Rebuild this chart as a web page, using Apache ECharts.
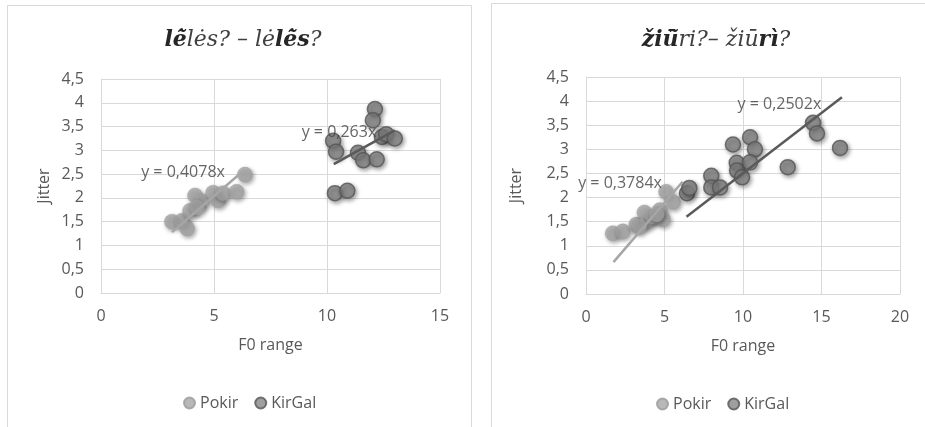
<!DOCTYPE html>
<html>
<head>
<meta charset="utf-8">
<script src="https://cdn.jsdelivr.net/npm/echarts@6/dist/echarts.min.js"></script>
<style>
html,body{margin:0;padding:0;background:#fff;}
#c{width:925px;height:427px;}
</style>
</head>
<body>
<div id="c"></div>
<script>
// ---- Data ----
// Left chart: lėlės? – lėlė̃s?
const leftPokir = [
  [3.14,1.50],[3.58,1.52],[3.81,1.36],[3.94,1.73],[4.16,2.05],[4.47,1.93],
  [4.25,1.80],[4.96,2.11],[5.18,1.95],[5.40,2.10],[6.00,2.13],[6.37,2.49]
];
const leftKirGal = [
  [12.12,3.87],[12.03,3.63],[10.27,3.20],[10.40,2.97],[11.37,2.95],[11.60,2.79],
  [12.20,2.81],[12.43,3.28],[12.62,3.34],[13.00,3.25],[10.35,2.10],[10.90,2.15]
];
// Right chart: žiū̃ri? – žiūrì?
const rightPokir = [
  [1.70,1.26],[2.34,1.30],[3.20,1.44],[3.72,1.69],[3.90,1.50],[4.27,1.60],
  [4.70,1.74],[4.90,1.55],[5.10,2.12],[5.54,1.91],[4.50,1.65],[3.40,1.40]
];
const rightKirGal = [
  [6.43,2.09],[6.58,2.20],[7.98,2.45],[7.98,2.21],[8.54,2.21],[9.36,3.10],
  [9.60,2.72],[9.62,2.56],[9.94,2.42],[10.45,3.25],[10.76,3.00],[10.45,2.73],
  [12.85,2.63],[14.46,3.55],[14.71,3.33],[16.18,3.03]
];
// Trendlines y = k*x (slope, x-extent)
const leftSlopes = [0.4078, 0.263];
const leftTrendX = [[3.14,6.2],[10.3,13.0]];
const rightSlopes = [0.3784, 0.2502];
const rightTrendX = [[1.75,6.15],[6.4,16.3]];
// trend label anchor positions (data units)
const leftLabelPos = [[3.63,2.54],[10.53,3.38]];
const rightLabelPos = [[2.17,2.30],[12.32,3.94]];
// axis ticks
const yTicks = {min:0,max:4.5,interval:0.5};
const leftX = {min:0,max:15,interval:5};
const rightX = {min:0,max:20,interval:5};
const seriesNames = ['Pokir','KirGal'];

// ---- Styles ----
const txt = '#595959';
const gridC = '#d9d9d9';
const font = 'Open Sans';
const fs = 16;
const pokirStyle = {color:'#a6a6a6', borderColor:'#9a9a9a', borderWidth:0.5,
  shadowBlur:4, shadowColor:'rgba(0,0,0,0.45)', shadowOffsetX:1.5, shadowOffsetY:2};
const kirStyle = {color:'#878787', borderColor:'#555555', borderWidth:1.5,
  shadowBlur:4, shadowColor:'rgba(0,0,0,0.45)', shadowOffsetX:1.5, shadowOffsetY:2};
const trendColors = ['#a6a6a6','#5a5a5a'];

const comma = v => String(v).replace('.', ',');

function xAxis(idx, r){
  return {gridIndex:idx, type:'value', min:r.min, max:r.max, interval:r.interval,
    name:'F0 range', nameLocation:'middle', nameGap:44,
    nameTextStyle:{color:txt, fontSize:fs, fontFamily:font},
    axisLine:{show:true, lineStyle:{color:gridC}}, axisTick:{show:false},
    axisLabel:{color:txt, fontSize:fs, fontFamily:font, margin:15, formatter:comma},
    splitLine:{show:true, lineStyle:{color:gridC, width:1}}};
}
function yAxis(idx, gap){
  return {gridIndex:idx, type:'value', min:yTicks.min, max:yTicks.max, interval:yTicks.interval,
    name:'Jitter', nameLocation:'middle', nameGap:gap, nameRotate:90,
    nameTextStyle:{color:txt, fontSize:fs, fontFamily:font},
    axisLine:{show:true, lineStyle:{color:gridC}}, axisTick:{show:false},
    axisLabel:{color:txt, fontSize:fs, fontFamily:font, margin:17, formatter:comma},
    splitLine:{show:true, lineStyle:{color:gridC, width:1}}};
}
function pointSeries(idx, data, name, style){
  return {type:'scatter', name:name, xAxisIndex:idx, yAxisIndex:idx, data:data,
    symbol:'circle', symbolSize:15, itemStyle:style, z:2};
}
function trendSeries(idx, k, ext, color){
  return {type:'line', xAxisIndex:idx, yAxisIndex:idx, symbol:'none', silent:true,
    data:[[ext[0], k*ext[0]],[ext[1], k*ext[1]]],
    lineStyle:{color:color, width:2.5}, z:3, tooltip:{show:false}};
}
function labelSeries(idx, pos, k){
  return {type:'scatter', xAxisIndex:idx, yAxisIndex:idx, symbolSize:1, silent:true,
    itemStyle:{color:'rgba(0,0,0,0)'}, z:4,
    data:[pos],
    label:{show:true, position:'inside', formatter:'y = ' + comma(k) + 'x',
      color:'#404040', fontSize:fs, fontFamily:font}};
}

const titleRich = {
  b:{fontFamily:'DejaVu Serif', fontStyle:'italic', fontWeight:'bold', fontSize:22, color:'#262626'},
  i:{fontFamily:'DejaVu Serif', fontStyle:'italic', fontWeight:'normal', fontSize:22, color:'#404040'}
};

const option = {
  backgroundColor:'#fff',
  animation:false,
  graphic:[
    {type:'rect', shape:{x:7.5,y:5.5,width:464,height:440}, style:{fill:'none', stroke:'#d9d9d9', lineWidth:1}},
    {type:'rect', shape:{x:491.5,y:3.5,width:450,height:440}, style:{fill:'none', stroke:'#d9d9d9', lineWidth:1}}
  ],
  title:[
    {text:'{b|lė̃}{i|lės? – lė}{b|lė̃s}{i|?}', left:238, top:24, textAlign:'center',
      textStyle:{rich:titleRich}},
    {text:'{b|žiū̃}{i|ri?– žiū}{b|rì}{i|?}', left:711, top:24, textAlign:'center',
      textStyle:{rich:titleRich}}
  ],
  legend:[
    {left:178, top:390, icon:'circle', itemWidth:11, itemHeight:11, itemGap:16,
      textStyle:{color:txt, fontSize:fs, fontFamily:font},
      data:seriesNames},
    {left:651, top:391, icon:'circle', itemWidth:11, itemHeight:11, itemGap:16,
      textStyle:{color:txt, fontSize:fs, fontFamily:font},
      data:seriesNames}
  ],
  grid:[
    {left:101, top:79, width:339, height:214},
    {left:586, top:77, width:314, height:217}
  ],
  xAxis:[xAxis(0,leftX), xAxis(1,rightX)],
  yAxis:[yAxis(0,49), yAxis(1,62)],
  series:[
    pointSeries(0,leftPokir,seriesNames[0],pokirStyle),
    pointSeries(0,leftKirGal,seriesNames[1],kirStyle),
    trendSeries(0,leftSlopes[0],leftTrendX[0],trendColors[0]),
    trendSeries(0,leftSlopes[1],leftTrendX[1],trendColors[1]),
    labelSeries(0,leftLabelPos[0],leftSlopes[0]),
    labelSeries(0,leftLabelPos[1],leftSlopes[1]),
    pointSeries(1,rightPokir,seriesNames[0],pokirStyle),
    pointSeries(1,rightKirGal,seriesNames[1],kirStyle),
    trendSeries(1,rightSlopes[0],rightTrendX[0],trendColors[0]),
    trendSeries(1,rightSlopes[1],rightTrendX[1],trendColors[1]),
    labelSeries(1,rightLabelPos[0],rightSlopes[0]),
    labelSeries(1,rightLabelPos[1],rightSlopes[1])
  ]
};
const chart = echarts.init(document.getElementById('c'), null, {renderer:'canvas'});
chart.setOption(option);
</script>
</body>
</html>
